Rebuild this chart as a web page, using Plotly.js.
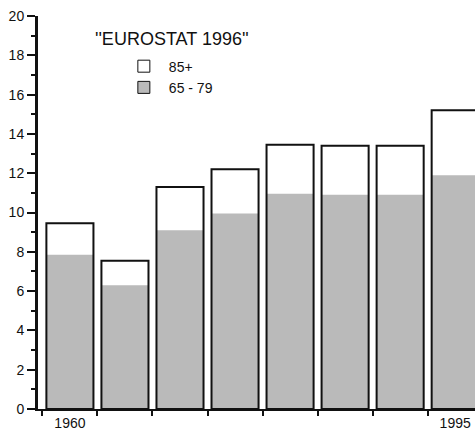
<!DOCTYPE html>
<html>
<head>
<meta charset="utf-8">
<script src="https://cdn.plot.ly/plotly-3.0.1.min.js"></script>
<style>html,body{margin:0;padding:0;background:#fff;}#chart{width:475px;height:434px;}</style>
</head>
<body>
<div id="chart"></div>
<script>
// Data
var years = ['1960', '1965', '1970', '1975', '1980', '1985', '1990', '1995'];
var tickLabels = ['1960', '', '', '', '', '', '', '1995'];
var age65to79 = [7.85, 6.3, 9.1, 9.95, 10.95, 10.9, 10.9, 11.9];
var age85plus = [1.6, 1.25, 2.2, 2.25, 2.5, 2.5, 2.5, 3.3];
var seriesNames = ['85+', '65 - 79'];
var sourceTitle = "''EUROSTAT 1996''";

var totals = age65to79.map(function (v, i) { return v + age85plus[i]; });

var grey = '#bababa';
var font = 'Liberation Sans, Arial, sans-serif';

var traces = [
  { type: 'bar', x: years, y: age65to79, marker: { color: grey, line: { width: 0 } },
    showlegend: false, hoverinfo: 'skip' },
  { type: 'bar', x: years, y: totals, marker: { color: 'rgba(0,0,0,0)', line: { color: '#111', width: 2 } },
    showlegend: false, hoverinfo: 'skip' },
  { type: 'bar', x: [null], y: [null], name: seriesNames[0],
    marker: { color: '#ffffff', line: { color: '#111', width: 1 } } },
  { type: 'bar', x: [null], y: [null], name: seriesNames[1],
    marker: { color: grey, line: { color: '#111', width: 1 } } }
];

var layout = {
  width: 475, height: 434,
  margin: { l: 38, r: 0, t: 16, b: 25, pad: 0 },
  paper_bgcolor: '#fff', plot_bgcolor: '#fff',
  barmode: 'overlay', bargap: 0.145,
  font: { family: font, size: 13, color: '#111' },
  showlegend: true,
  legend: { x: 0.185, y: 0.912, xanchor: 'left', yanchor: 'top', itemwidth: 40,
            bgcolor: 'rgba(0,0,0,0)', font: { family: font, size: 14, color: '#111' },
            traceorder: 'normal', itemclick: false },
  xaxis: {
    type: 'category', range: [-0.58, 7.36],
    tickmode: 'array', tickvals: years, ticktext: tickLabels, tickson: 'boundaries',
    ticks: 'outside', ticklen: 5, tickwidth: 2, tickcolor: '#111',
    showline: true, linecolor: '#111', linewidth: 2,
    showgrid: false, zeroline: false,
    tickfont: { family: font, size: 14, color: '#111' }
  },
  yaxis: {
    range: [0, 20], dtick: 2, tick0: 0,
    ticks: 'outside', ticklen: 8, tickwidth: 2, tickcolor: '#111',
    minor: { dtick: 1, ticks: 'outside', ticklen: 4, tickwidth: 2, tickcolor: '#111', showgrid: false },
    showline: true, linecolor: '#111', linewidth: 3,
    showgrid: false, zeroline: false,
    tickfont: { family: font, size: 14, color: '#111' }
  },
  annotations: [
    { text: sourceTitle, xref: 'paper', yref: 'paper', x: (172 - 38) / 437, y: (409 - 39) / 393,
      xanchor: 'center', yanchor: 'middle', showarrow: false,
      font: { family: font, size: 18, color: '#111' } }
  ]
};

Plotly.newPlot('chart', traces, layout, { displayModeBar: false, staticPlot: true });
</script>
</body>
</html>
